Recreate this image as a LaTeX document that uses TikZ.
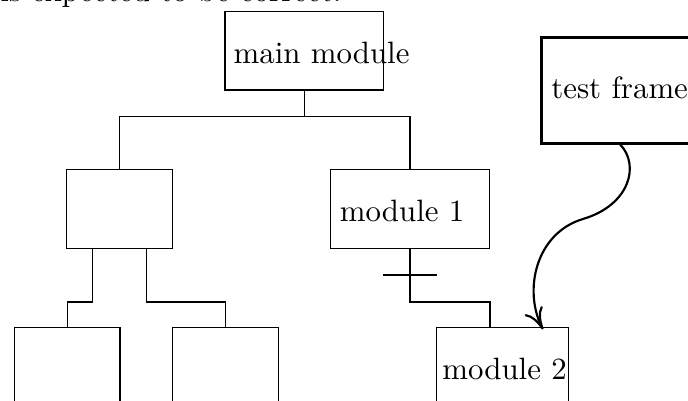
\documentclass[tikz,border=0pt]{standalone}
\usetikzlibrary{arrows.meta}
\newdimen\pxu
\pxu=0.3238pt
\begin{document}
\begin{tikzpicture}[x=\pxu, y=-\pxu,
  box/.style={draw, line width=0.4pt, inner sep=0pt},
  framebox/.style={draw, line width=0.8pt, inner sep=0pt},
  label/.style={anchor=base west, inner sep=0pt},
  link/.style={line width=0.4pt},
  bar/.style={line width=0.8pt},
  flow/.style={line width=0.7pt, -{To[length=7pt,width=6.5pt]}}]
\useasboundingbox (0,0) rectangle (688,401);
\clip (0,0) rectangle (688,401);

% tail of the preceding sentence
\node[label] (caption) at (0,1.5) {is expected to be correct.};

% module boxes
\node[box, minimum width=158.3\pxu, minimum height=78.3\pxu] (main) at (304.2,50.8) {};
\node[box, minimum width=106\pxu, minimum height=79.4\pxu] (midL) at (119.7,209) {};
\node[box, minimum width=158.6\pxu, minimum height=79.4\pxu] (mod1) at (410,209) {};
\node[box, minimum width=105.7\pxu, minimum height=79.4\pxu] (botA) at (67.2,367.4) {};
\node[box, minimum width=106\pxu, minimum height=79.4\pxu] (botB) at (225.3,367.4) {};
\node[box, minimum width=131.8\pxu, minimum height=79.4\pxu] (mod2) at (502.4,367.4) {};
\node[framebox, minimum width=157\pxu, minimum height=106\pxu] (tf) at (620.2,90.3) {};

% labels inside the boxes
\node[label] (mainlbl) at (233,64) {main module};
\node[label] (mod1lbl) at (339.3,221.7) {module 1};
\node[label] (mod2lbl) at (441.7,380) {module 2};
\node[label] (tflbl) at (550.7,98.3) {test frame};

% call tree
\coordinate (bus1) at (304.2,116.7);
\draw[link] (main.south) -- (bus1);
\draw[link] (midL.north) |- (bus1) -| (mod1.north);
\draw[link] (midL.south west) ++(26.6,0) -- ++(0,52.6) -| (botA.north);
\draw[link] (midL.south east) ++(-26.7,0) -- ++(0,52.6) -| (botB.north);
\draw[link] (mod1.south) -- ++(0,52.6) -| (mod2.north -| mod1.east);

% cut mark on the module 1 -> module 2 link
\coordinate (cut) at (410,275);
\draw[bar] (cut) ++(-26.7,0) -- ++(53.4,0);

% test frame driving module 2
\coordinate (tip) at (543,329.5);
\draw[flow] (tf.south) .. controls (640,165) and (630,205) .. (583,219)
  .. controls (536,233) and (523,290) .. (tip);
\end{tikzpicture}
\end{document}
